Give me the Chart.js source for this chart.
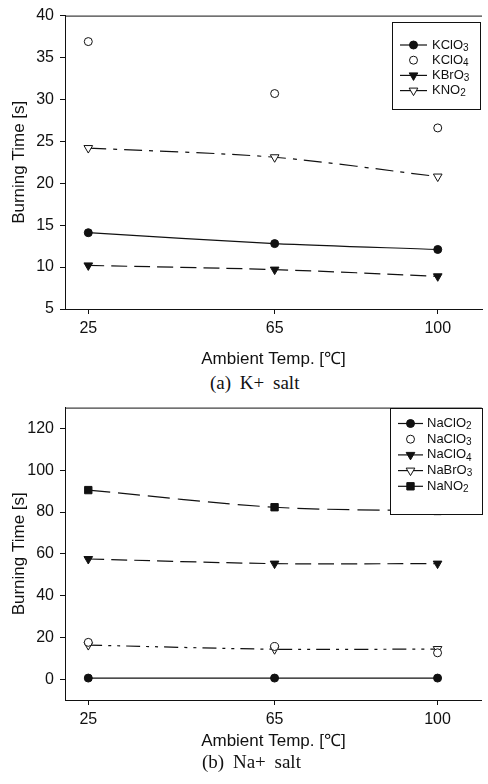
<!DOCTYPE html>
<html>
<head>
<meta charset="utf-8">
<script src="https://cdn.jsdelivr.net/npm/chart.js@4.4.1/dist/chart.umd.min.js"></script>
<style>
  body { margin: 0; background: #fff; }
  #page { position: relative; width: 488px; height: 784px; }
  .box { position: absolute; left: 0; width: 488px; }
  .cap { position: absolute; font: 19px "Liberation Serif", serif; color: #111; line-height: 24px; word-spacing: 4px; white-space: nowrap; }
</style>
</head>
<body>
<div id="page">
  <div class="box" style="top:0;height:370px"><canvas id="chartK"></canvas></div>
  <div class="cap" style="top:371px;left:210px">(a) K+ salt</div>
  <div class="box" style="top:392px;height:360px"><canvas id="chartNa"></canvas></div>
  <div class="cap" style="top:750px;left:202px">(b) Na+ salt</div>
</div>
<script>
// ambient temperatures (x) and tick values
const temps = [25, 65, 100];
const xTicks = [25, 65, 100];
const kYTicks = [5, 10, 15, 20, 25, 30, 35, 40];
const naYTicks = [0, 20, 40, 60, 80, 100, 120];

// (a) K+ salts, burning time [s]
const kLabels = ['KClO₃', 'KClO₄', 'KBrO₃', 'KNO₂'];
const kClO3 = [14.1, 12.8, 12.1];
const kClO4 = [36.9, 30.7, 26.6];
const kBrO3 = [10.2, 9.7, 8.9];
const kNO2 = [24.2, 23.1, 20.8];

// (b) Na+ salts, burning time [s]
const naLabels = ['NaClO₂', 'NaClO₃', 'NaClO₄', 'NaBrO₃', 'NaNO₂'];
const naClO2 = [0.5, 0.5, 0.5];
const naClO3 = [17.6, 15.6, 12.6];
const naClO4 = [57.5, 55.3, 55.3];
const naBrO3 = [16.3, 14.3, 14.4];
const naNO2 = [90.5, 82.3, 80.5];

const ink = '#111';
const family = '"Liberation Sans", Arial, sans-serif';
const tickFont = { family: family, size: 16 };
const titleFont = { family: family, size: 17 };

// marker + line styles
const styles = {
  filledCircle: { pointStyle: 'circle', pointRadius: 4, pointBackgroundColor: ink, pointRotation: 0 },
  openCircle: { pointStyle: 'circle', pointRadius: 4, pointBackgroundColor: '#fff', pointRotation: 0 },
  filledDown: { pointStyle: 'triangle', pointRadius: 5, pointBackgroundColor: ink, pointRotation: 180 },
  openDown: { pointStyle: 'triangle', pointRadius: 5, pointBackgroundColor: '#fff', pointRotation: 180 },
  filledSquare: { pointStyle: 'rect', pointRadius: 5.2, pointBackgroundColor: ink, pointRotation: 0 }
};

const makeSeries = (label, values, style, dash, showLine) => Object.assign({
  label: label,
  data: temps.map((t, i) => ({ x: t, y: values[i] })),
  borderColor: ink,
  borderWidth: 1.2,
  borderDash: dash,
  showLine: showLine,
  tension: 0.3,
  pointBorderColor: ink,
  pointBorderWidth: 1,
  fill: false
}, style);

const subDigits = { '₀': '0', '₁': '1', '₂': '2', '₃': '3', '₄': '4', '₅': '5', '₆': '6', '₇': '7', '₈': '8', '₉': '9' };

// label text with a real subscript drawn smaller and lower
const drawFormula = (ctx, text, x, y) => {
  let i = 0;
  while (i < text.length) {
    const ch = text[i];
    if (subDigits[ch]) {
      ctx.font = '10px ' + family;
      ctx.fillText(subDigits[ch], x, y + 3);
      x += ctx.measureText(subDigits[ch]).width;
    } else {
      ctx.font = '13px ' + family;
      ctx.fillText(ch, x, y);
      x += ctx.measureText(ch).width;
    }
    i++;
  }
};

// top frame line + boxed legend drawn over the plot
const framePlugin = {
  id: 'frame',
  afterDatasetsDraw(chart, args, opts) {
    const { ctx, chartArea: a } = chart;
    ctx.save();
    ctx.strokeStyle = ink;
    ctx.lineWidth = 1;
    ctx.beginPath();
    ctx.moveTo(a.left, a.top + 0.5);
    ctx.lineTo(a.right, a.top + 0.5);
    ctx.stroke();

    const x0 = Math.round(a.right - opts.right - opts.width);
    const y0 = Math.round(a.top + opts.top);
    ctx.fillStyle = '#fff';
    ctx.fillRect(x0, y0, opts.width, opts.height);
    ctx.strokeRect(x0 + 0.5, y0 + 0.5, opts.width, opts.height);

    ctx.textBaseline = 'middle';
    chart.data.datasets.forEach((ds, i) => {
      const y = y0 + opts.first + i * opts.step;
      if (ds.showLine) {
        ctx.strokeStyle = ink;
        ctx.lineWidth = 1.2;
        ctx.beginPath();
        ctx.moveTo(x0 + opts.lineFrom, y);
        ctx.lineTo(x0 + opts.lineTo, y);
        ctx.stroke();
      }
      ctx.fillStyle = ds.pointBackgroundColor;
      ctx.strokeStyle = ink;
      ctx.lineWidth = 1;
      Chart.helpers.drawPoint(ctx, {
        pointStyle: ds.pointStyle,
        radius: ds.pointRadius,
        rotation: ds.pointRotation,
        borderWidth: 1
      }, x0 + (opts.lineFrom + opts.lineTo) / 2, y);
      ctx.fillStyle = ink;
      drawFormula(ctx, ds.label, x0 + opts.text, y);
    });
    ctx.restore();
  }
};

const makeChart = (id, datasets, yMin, yMax, yTicks, xHeight, padTop, legendBox) => new Chart(document.getElementById(id), {
  type: 'line',
  data: { datasets: datasets },
  options: {
    responsive: true,
    maintainAspectRatio: false,
    animation: false,
    layout: { padding: { top: padTop, right: 1, left: 0, bottom: 0 } },
    plugins: {
      legend: { display: false },
      tooltip: { enabled: false },
      frame: legendBox
    },
    scales: {
      x: {
        type: 'linear',
        min: 20,
        max: 109.5,
        afterBuildTicks: s => { s.ticks = xTicks.map(v => ({ value: v })); },
        afterFit: s => { s.height = xHeight; },
        ticks: { font: tickFont, color: ink, padding: 5, maxRotation: 0 },
        grid: { drawOnChartArea: false, drawTicks: true, tickLength: 5, tickColor: ink },
        border: { color: ink, width: 1 },
        title: { display: true, text: 'Ambient Temp. [℃]', font: titleFont, color: ink, padding: { top: 0, bottom: 0 } }
      },
      y: {
        min: yMin,
        max: yMax,
        afterBuildTicks: s => { s.ticks = yTicks.map(v => ({ value: v })); },
        afterFit: s => { s.width = 65; },
        ticks: { font: tickFont, color: ink, padding: 6 },
        grid: { drawOnChartArea: false, drawTicks: true, tickLength: 5, tickColor: ink },
        border: { color: ink, width: 1 },
        title: { display: true, text: 'Burning Time [s]', font: titleFont, color: ink, padding: { top: 9, bottom: 0 } }
      }
    }
  },
  plugins: [framePlugin]
});

makeChart('chartK', [
  makeSeries(kLabels[0], kClO3, styles.filledCircle, [], true),
  makeSeries(kLabels[1], kClO4, styles.openCircle, [], false),
  makeSeries(kLabels[2], kBrO3, styles.filledDown, [16, 7], true),
  makeSeries(kLabels[3], kNO2, styles.openDown, [18, 7, 4, 7], true)
], 5, 40, kYTicks, 61, 13,
  { right: 2, top: 6, width: 88, height: 87, first: 23, step: 15.2, lineFrom: 8, lineTo: 35, text: 40 });

makeChart('chartNa', [
  makeSeries(naLabels[0], naClO2, styles.filledCircle, [], true),
  makeSeries(naLabels[1], naClO3, styles.openCircle, [], false),
  makeSeries(naLabels[2], naClO4, styles.filledDown, [16, 7], true),
  makeSeries(naLabels[3], naBrO3, styles.openDown, [14, 6, 3, 6, 3, 6], true),
  makeSeries(naLabels[4], naNO2, styles.filledSquare, [22, 8], true)
], -10, 130, naYTicks, 52, 11,
  { right: 0, top: 0, width: 92, height: 106, first: 15.5, step: 15.7, lineFrom: 8, lineTo: 33, text: 37 });
</script>
</body>
</html>
